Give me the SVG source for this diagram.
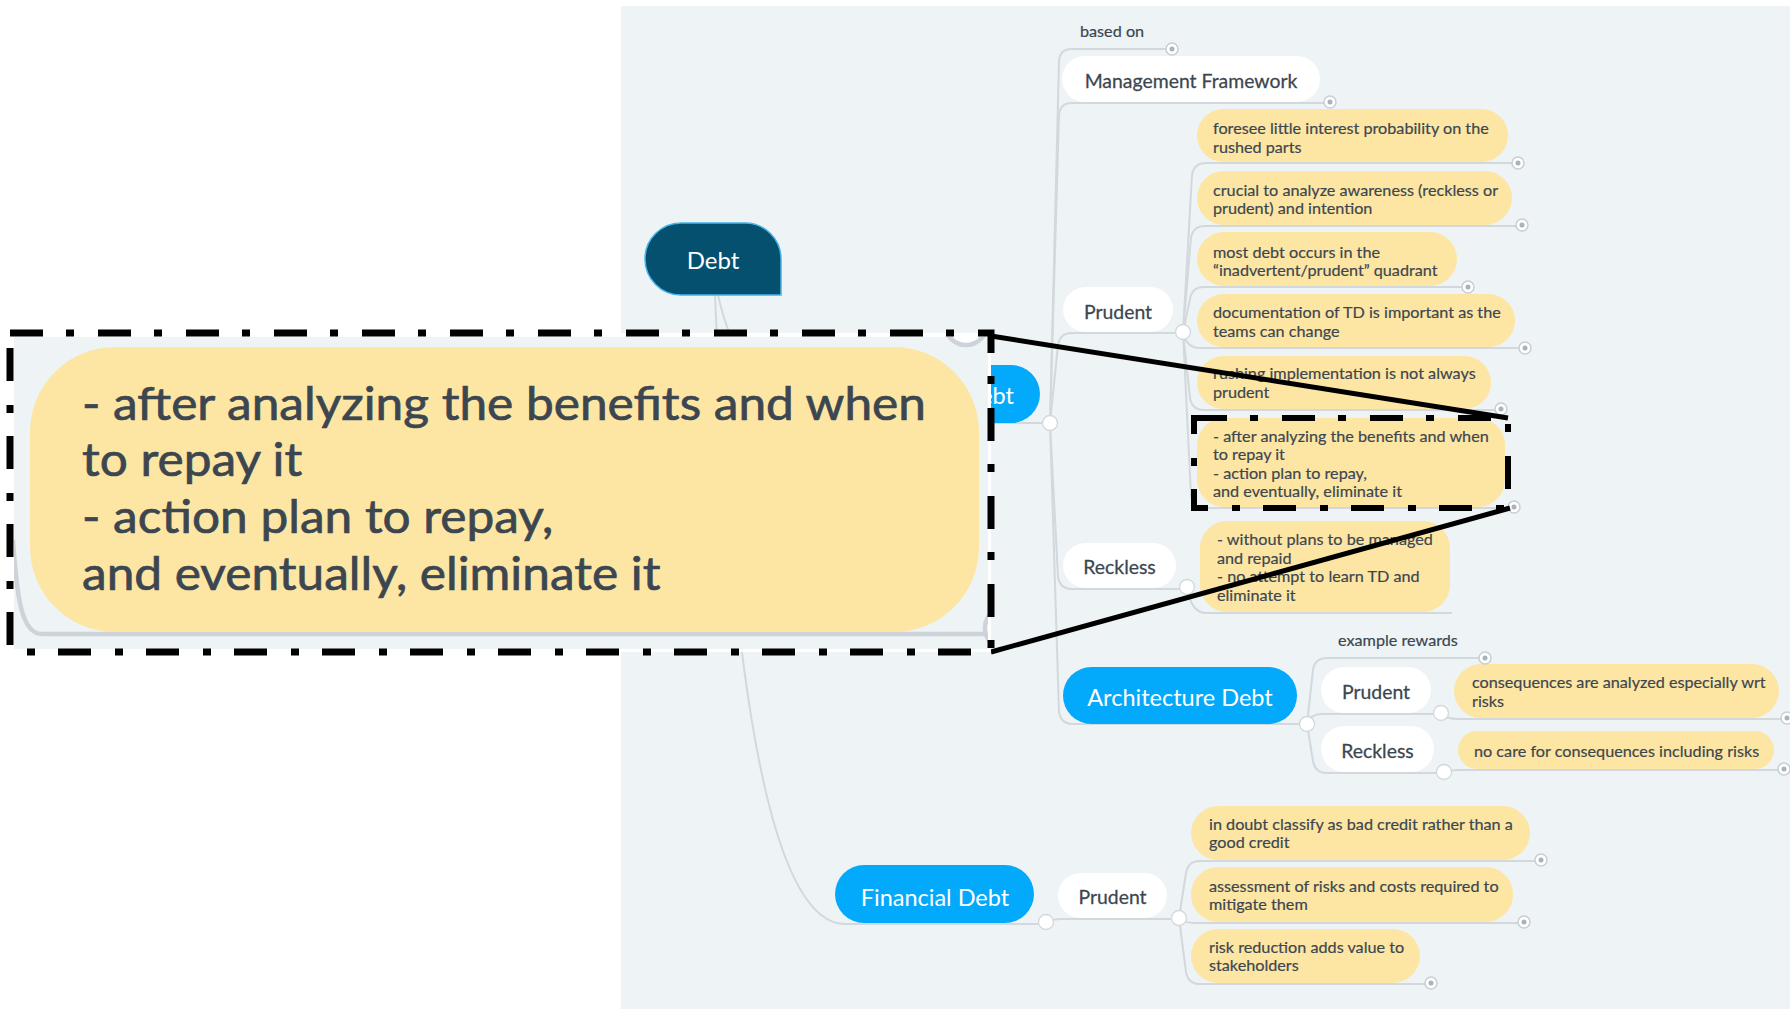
<svg xmlns="http://www.w3.org/2000/svg" width="1790" height="1009" viewBox="0 0 1790 1009">
<defs>
<style>
.bg{fill:#eef3f6}
.c{fill:none;stroke:#d3d8dc;stroke-width:2}
.note{fill:#fde6a3}
.pill{fill:#ffffff}
.blue{fill:#03a9fb}
.t{font-family:Lato,"Liberation Sans",sans-serif;fill:#3c4650}
.n{font-size:15px;stroke:#3c4650;stroke-width:0.18px}
.p{font-size:18.5px;text-anchor:middle;stroke:#3c4650;stroke-width:0.25px}
.b{font-size:23.5px;fill:#ffffff;text-anchor:middle}
.end{fill:#ffffff;stroke:#c8ced3;stroke-width:1.5}
.dot{fill:#a9b3bb}
.jn{fill:#ffffff;stroke:#d3d8dc;stroke-width:1.3}
.dash{fill:none;stroke:#000;stroke-dasharray:33 23 8 24}
.zl{stroke:#000;stroke-width:5}
</style>
<clipPath id="ic"><rect x="14" y="337" width="974" height="312"/></clipPath>
</defs>
<rect width="1790" height="1009" fill="#ffffff"/>
<rect class="bg" x="621" y="6" width="1169" height="1003"/>

<g id="connectors">
<path class="c" d="M718,295 C728,340 760,423 835,423 H1050"/>
<path class="c" d="M715,295 C730,650 765,924 845,924 H1046"/>
<path class="c" d="M1050,423 L1059,61 Q1060,49 1072,49 H1172"/>
<path class="c" d="M1050,423 L1059,115 Q1060,103 1072,103 H1330"/>
<path class="c" d="M1050,423 L1058,345 Q1060,333 1072,333 H1183"/>
<path class="c" d="M1050,423 L1058,577 Q1060,589 1072,589 H1187"/>
<path class="c" d="M1050,423 L1059,712 Q1061,724 1073,724 H1307"/>
<path class="c" d="M1183,332 L1192,175 Q1194,163 1206,163 H1518"/>
<path class="c" d="M1183,332 L1191,238 Q1193,226 1205,226 H1522"/>
<path class="c" d="M1183,332 L1190,299 Q1192,287 1204,287 H1468"/>
<path class="c" d="M1183,332 Q1186,348 1200,348 H1525"/>
<path class="c" d="M1183,332 L1190,398 Q1192,410 1204,410 H1501"/>
<path class="c" d="M1183,332 L1191,496 Q1193,508 1205,508 H1514"/>
<path class="c" d="M1187,587 Q1191,613 1206,613 H1452"/>
<path class="c" d="M1307,724 L1313,670 Q1315,658 1327,658 H1485"/>
<path class="c" d="M1307,724 Q1310,714 1322,714 H1441"/>
<path class="c" d="M1307,724 L1313,761 Q1315,773 1327,773 H1444"/>
<path class="c" d="M1441,713 Q1446,719 1458,719 H1787"/>
<path class="c" d="M1444,772 Q1450,770 1460,770 H1784"/>
<path class="c" d="M1046,922 Q1052,919 1062,919 H1179"/>
<path class="c" d="M1179,918 L1186,873 Q1188,861 1200,861 H1541"/>
<path class="c" d="M1179,918 Q1183,923 1195,923 H1524"/>
<path class="c" d="M1179,918 L1186,972 Q1188,984 1200,984 H1431"/>
</g>

<g id="node-debt">
<path d="M681,223 H745 A36,36 0 0 1 781,259 V295 H681 A36,36 0 0 1 645,259 A36,36 0 0 1 681,223 Z" fill="#05506f" stroke="#44b4ea" stroke-width="1.5"/>
<text x="713" y="269" font-family="Lato, 'Liberation Sans', sans-serif" font-size="24" text-anchor="middle" fill="#ffffff">Debt</text>
</g>
<g id="node-technical-debt"><rect class="blue" x="835" y="365" width="205" height="58" rx="29"/><text class="t b" x="1014" y="404" style="text-anchor:end">Technical Debt</text></g>
<g id="node-based-on"><text class="t n" x="1080" y="37" transform="matrix(1.08 0 0 1 -86.4 0)">based on</text></g>
<g id="node-management-framework"><rect class="pill" x="1062" y="56" width="258" height="46" rx="23"/><text class="t p" x="1191" y="88" transform="matrix(1.05 0 0 1 -59.55 0)">Management Framework</text></g>
<g id="node-prudent-td"><rect class="pill" x="1063" y="287" width="110" height="45" rx="22.5"/><text class="t p" x="1118" y="319" transform="matrix(1.05 0 0 1 -55.9 0)">Prudent</text></g>
<g id="note-a"><rect class="note" x="1197" y="109" width="311" height="53" rx="26.5"/><text class="t n" x="1213" y="134" transform="matrix(1.08 0 0 1 -97.04 0)">foresee little interest probability on the<tspan x="1213" dy="19">rushed parts</tspan></text></g>
<g id="note-b"><rect class="note" x="1197" y="171" width="315" height="54" rx="27"/><text class="t n" x="1213" y="196" transform="matrix(1.08 0 0 1 -97.04 0)">crucial to analyze awareness (reckless or<tspan x="1213" dy="18.5">prudent) and intention</tspan></text></g>
<g id="note-c"><rect class="note" x="1197" y="232" width="260" height="54" rx="27"/><text class="t n" x="1213" y="258" transform="matrix(1.08 0 0 1 -97.04 0)">most debt occurs in the<tspan x="1213" dy="18.5">“inadvertent/prudent” quadrant</tspan></text></g>
<g id="note-d"><rect class="note" x="1197" y="294" width="318" height="53" rx="26.5"/><text class="t n" x="1213" y="318" transform="matrix(1.08 0 0 1 -97.04 0)">documentation of TD is important as the<tspan x="1213" dy="19">teams can change</tspan></text></g>
<g id="note-e"><rect class="note" x="1197" y="356" width="294" height="53" rx="26.5"/><text class="t n" x="1213" y="379" transform="matrix(1.08 0 0 1 -97.04 0)">rushing implementation is not always<tspan x="1213" dy="19">prudent</tspan></text></g>
<g id="note-f"><rect class="note" x="1197" y="418" width="308" height="89" rx="27"/><text class="t n" x="1213" y="442" transform="matrix(1.08 0 0 1 -97.04 0)">- after analyzing the benefits and when<tspan x="1213" dy="18.5">to repay it</tspan><tspan x="1213" dy="18.5">- action plan to repay,</tspan><tspan x="1213" dy="18.5">and eventually, eliminate it</tspan></text></g>
<g id="node-reckless-td"><rect class="pill" x="1063" y="543" width="113" height="45" rx="22.5"/><text class="t p" x="1119.5" y="574" transform="matrix(1.05 0 0 1 -55.975 0)">Reckless</text></g>
<g id="note-reckless-td"><rect class="note" x="1200" y="521" width="250" height="91" rx="27"/><text class="t n" x="1217" y="545" transform="matrix(1.08 0 0 1 -97.36 0)">- without plans to be managed<tspan x="1217" dy="18.7">and repaid</tspan><tspan x="1217" dy="18.7">- no attempt to learn TD and</tspan><tspan x="1217" dy="18.7">eliminate it</tspan></text></g>
<g id="node-architecture-debt"><rect class="blue" x="1063" y="667" width="234" height="57" rx="28.5"/><text class="t b" x="1180" y="706">Architecture Debt</text></g>
<g id="node-example-rewards"><text class="t n" x="1338" y="646" transform="matrix(1.08 0 0 1 -107.04 0)">example rewards</text></g>
<g id="node-prudent-ad"><rect class="pill" x="1321" y="667" width="110" height="46" rx="23"/><text class="t p" x="1376" y="699" transform="matrix(1.05 0 0 1 -68.8 0)">Prudent</text></g>
<g id="note-consequences"><rect class="note" x="1454" y="664" width="325" height="54" rx="27"/><text class="t n" x="1472" y="688" transform="matrix(1.08 0 0 1 -117.76 0)">consequences are analyzed especially wrt<tspan x="1472" dy="19">risks</tspan></text></g>
<g id="node-reckless-ad"><rect class="pill" x="1321" y="726" width="113" height="46" rx="23"/><text class="t p" x="1377.5" y="758" transform="matrix(1.05 0 0 1 -68.875 0)">Reckless</text></g>
<g id="note-no-care"><rect class="note" x="1458" y="731" width="316" height="38" rx="19"/><text class="t n" x="1474" y="757" transform="matrix(1.08 0 0 1 -117.92 0)">no care for consequences including risks</text></g>
<g id="node-financial-debt"><rect class="blue" x="835" y="865" width="199" height="58" rx="29"/><text class="t b" x="935" y="906">Financial Debt</text></g>
<g id="node-prudent-fd"><rect class="pill" x="1058" y="873" width="109" height="45" rx="22.5"/><text class="t p" x="1112.5" y="904" transform="matrix(1.05 0 0 1 -55.625 0)">Prudent</text></g>
<g id="note-g"><rect class="note" x="1191" y="806" width="339" height="54" rx="27"/><text class="t n" x="1209" y="830" transform="matrix(1.08 0 0 1 -96.72 0)">in doubt classify as bad credit rather than a<tspan x="1209" dy="18.5">good credit</tspan></text></g>
<g id="note-h"><rect class="note" x="1191" y="867" width="322" height="55" rx="27"/><text class="t n" x="1209" y="892" transform="matrix(1.08 0 0 1 -96.72 0)">assessment of risks and costs required to<tspan x="1209" dy="18.5">mitigate them</tspan></text></g>
<g id="note-i"><rect class="note" x="1191" y="929" width="229" height="54" rx="27"/><text class="t n" x="1209" y="953" transform="matrix(1.08 0 0 1 -96.72 0)">risk reduction adds value to<tspan x="1209" dy="18.5">stakeholders</tspan></text></g>

<g id="connector-points">
<circle class="jn" cx="1050" cy="423" r="7.5"/>
<circle class="jn" cx="1183" cy="332" r="7.5"/>
<circle class="jn" cx="1187" cy="587" r="7.5"/>
<circle class="jn" cx="1307" cy="724" r="7.5"/>
<circle class="jn" cx="1441" cy="713" r="7.5"/>
<circle class="jn" cx="1444" cy="772" r="7.5"/>
<circle class="jn" cx="1046" cy="922" r="7.5"/>
<circle class="jn" cx="1179" cy="918" r="7.5"/>
<circle class="end" cx="1172" cy="49" r="6"/><circle class="dot" cx="1172" cy="49" r="2.5"/>
<circle class="end" cx="1330" cy="102" r="6"/><circle class="dot" cx="1330" cy="102" r="2.5"/>
<circle class="end" cx="1518" cy="163" r="6"/><circle class="dot" cx="1518" cy="163" r="2.5"/>
<circle class="end" cx="1522" cy="225" r="6"/><circle class="dot" cx="1522" cy="225" r="2.5"/>
<circle class="end" cx="1468" cy="287" r="6"/><circle class="dot" cx="1468" cy="287" r="2.5"/>
<circle class="end" cx="1525" cy="348" r="6"/><circle class="dot" cx="1525" cy="348" r="2.5"/>
<circle class="end" cx="1501" cy="409" r="6"/><circle class="dot" cx="1501" cy="409" r="2.5"/>
<circle class="end" cx="1514" cy="507" r="6"/><circle class="dot" cx="1514" cy="507" r="2.5"/>
<circle class="end" cx="1485" cy="658" r="6"/><circle class="dot" cx="1485" cy="658" r="2.5"/>
<circle class="end" cx="1787" cy="718" r="6"/><circle class="dot" cx="1787" cy="718" r="2.5"/>
<circle class="end" cx="1784" cy="769" r="6"/><circle class="dot" cx="1784" cy="769" r="2.5"/>
<circle class="end" cx="1541" cy="860" r="6"/><circle class="dot" cx="1541" cy="860" r="2.5"/>
<circle class="end" cx="1524" cy="922" r="6"/><circle class="dot" cx="1524" cy="922" r="2.5"/>
<circle class="end" cx="1431" cy="983" r="6"/><circle class="dot" cx="1431" cy="983" r="2.5"/>
</g>

<g id="zoom-callout">
<rect class="dash" x="1194" y="418" width="314" height="90" stroke-width="6"/>
<line class="zl" x1="991" y1="336" x2="1508" y2="418"/>
<line class="zl" x1="991" y1="652" x2="1510" y2="508"/>
<rect x="10" y="333" width="981" height="319" fill="#ffffff"/>
<g clip-path="url(#ic)">
<rect class="bg" x="14" y="337" width="974" height="312"/>
<path d="M13,540 C17,600 22,634 42,634 H990" fill="none" stroke="#cdd3d8" stroke-width="4.5"/>
<circle cx="966" cy="324" r="21" fill="#fff" stroke="#cdd3d8" stroke-width="4.5"/>
<circle cx="1006" cy="628" r="21" fill="#fff" stroke="#cdd3d8" stroke-width="4.5"/>
<rect class="note" x="30" y="347" width="949" height="285" rx="85"/>
<text class="t" font-size="46" x="82" y="420" stroke="#3c4650" stroke-width="0.7" transform="matrix(1.078 0 0 1 -6.396 0)">- after analyzing the benefits and when<tspan x="82" dy="56.5">to repay it</tspan><tspan x="82" dy="56.5">- action plan to repay,</tspan><tspan x="82" dy="56.5">and eventually, eliminate it</tspan></text>
</g>
<rect class="dash" x="10" y="333" width="981" height="319" stroke-width="7"/>
</g>
</svg>
